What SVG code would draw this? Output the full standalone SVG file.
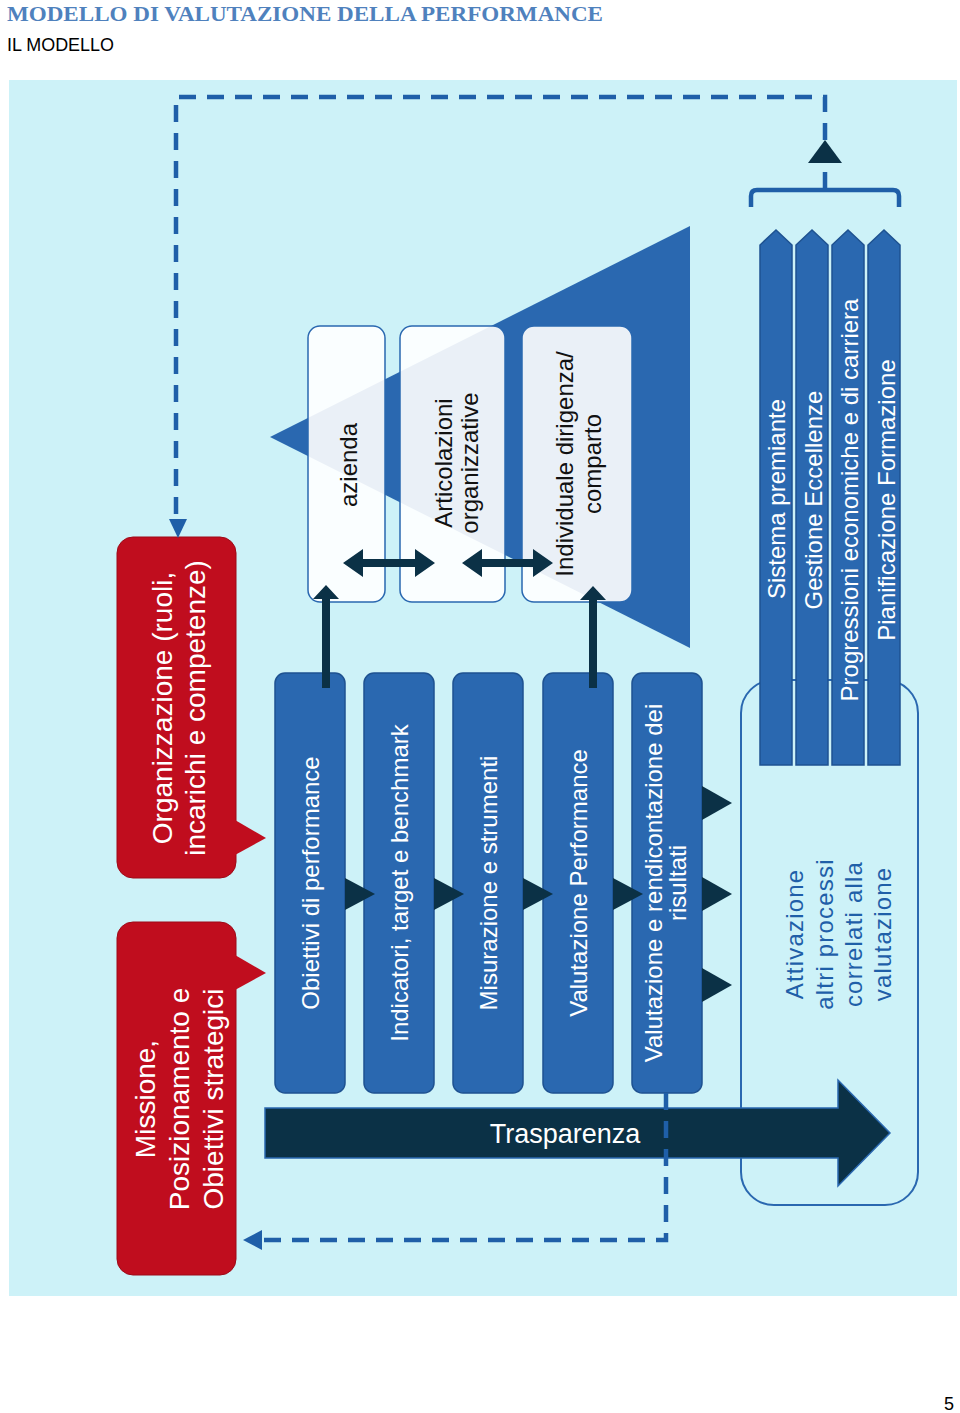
<svg xmlns="http://www.w3.org/2000/svg" width="960" height="1413" viewBox="0 0 960 1413">
<defs>
<style>
.t{font-family:"Liberation Sans",Arial,sans-serif;}
.wt{fill:#ffffff;font-size:24px;}
.rt{fill:#ffffff;font-size:28px;}
.dk{fill:#111111;font-size:24px;}
.bx{fill:#2A68B0;stroke:#1E5291;stroke-width:1.5;}
.red{fill:#C00D1E;stroke:#9E0A18;stroke-width:1;}
.wb{fill:#ffffff;fill-opacity:0.9;stroke:#2A68B0;stroke-width:1.5;}
.nav{fill:#0B3146;}
.dash{fill:none;stroke:#1F5FA8;stroke-width:4.5;stroke-dasharray:17 11;}
.bl{fill:#1F5FA8;}
</style>
</defs>
<rect width="960" height="1413" fill="#ffffff"/>
<g id="header">
<text x="7" y="21" font-family="'Liberation Serif',Cambria,serif" font-weight="bold" font-size="22" fill="#4F81BD" textLength="596" lengthAdjust="spacingAndGlyphs">MODELLO DI VALUTAZIONE DELLA PERFORMANCE</text>
<text x="7" y="51" class="t" font-size="18.5" fill="#000000" textLength="107" lengthAdjust="spacingAndGlyphs">IL MODELLO</text>
<text x="944" y="1410" class="t" font-size="18" fill="#000000">5</text>
</g>
<rect id="panel" x="9" y="80" width="948" height="1216" fill="#CDF2F8"/>
<g id="pyramid">
<polygon points="270,437 690,226 690,648" fill="#2A68B0"/>
</g>
<g id="node-azienda">
<rect class="wb" x="308" y="326" width="77" height="276" rx="12"/>
<text class="t dk" text-anchor="middle" transform="translate(357,465) rotate(-90)">azienda</text>
</g>
<g id="node-articolazioni">
<rect class="wb" x="400" y="326" width="105" height="276" rx="12"/>
<text class="t dk" text-anchor="middle" transform="translate(0,463) rotate(-90)"><tspan x="0" y="452">Articolazioni</tspan><tspan x="0" y="478">organizzative</tspan></text>
</g>
<g id="node-individuale">
<rect class="wb" x="522" y="326" width="110" height="276" rx="12"/>
<text class="t dk" text-anchor="middle" transform="translate(0,464) rotate(-90)"><tspan x="0" y="573">Individuale dirigenza/</tspan><tspan x="0" y="601">comparto</tspan></text>
</g>
<g id="node-attivazione">
<rect x="741" y="680" width="177" height="525" rx="33" fill="none" stroke="#2A68B0" stroke-width="2"/>
<text class="t" font-size="24" fill="#1F5FA8" letter-spacing="1.2" text-anchor="middle" transform="translate(0,934) rotate(-90)"><tspan x="0" y="803">Attivazione</tspan><tspan x="0" y="833">altri processi</tspan><tspan x="0" y="862">correlati alla</tspan><tspan x="0" y="891">valutazione</tspan></text>
</g>
<g id="node-sistema-premiante">
<path class="bx" d="M760,765 V245 L776,230 L792,245 V765 Z"/>
<text class="t wt" text-anchor="middle" transform="translate(785,499) rotate(-90)">Sistema premiante</text>
</g>
<g id="node-gestione-eccellenze">
<path class="bx" d="M796,765 V245 L812,230 L828,245 V765 Z"/>
<text class="t wt" text-anchor="middle" transform="translate(822,500) rotate(-90)">Gestione Eccellenze</text>
</g>
<g id="node-progressioni">
<path class="bx" d="M832,765 V245 L848,230 L864,245 V765 Z"/>
<text class="t wt" text-anchor="middle" transform="translate(858,500) rotate(-90)">Progressioni economiche e di carriera</text>
</g>
<g id="node-pianificazione">
<path class="bx" d="M868,765 V245 L884,230 L900,245 V765 Z"/>
<text class="t wt" text-anchor="middle" transform="translate(895,500) rotate(-90)">Pianificazione Formazione</text>
</g>
<g id="node-obiettivi">
<rect class="bx" x="275" y="673" width="70" height="420" rx="10"/>
<text class="t wt" text-anchor="middle" transform="translate(319,883) rotate(-90)">Obiettivi di performance</text>
</g>
<g id="node-indicatori">
<rect class="bx" x="364" y="673" width="70" height="420" rx="10"/>
<text class="t wt" text-anchor="middle" transform="translate(408,883) rotate(-90)">Indicatori, target e benchmark</text>
</g>
<g id="node-misurazione">
<rect class="bx" x="453" y="673" width="70" height="420" rx="10"/>
<text class="t wt" text-anchor="middle" transform="translate(497,883) rotate(-90)">Misurazione e strumenti</text>
</g>
<g id="node-valutazione-performance">
<rect class="bx" x="543" y="673" width="70" height="420" rx="10"/>
<text class="t wt" text-anchor="middle" transform="translate(587,883) rotate(-90)">Valutazione Performance</text>
</g>
<g id="node-rendicontazione">
<rect class="bx" x="632" y="673" width="70" height="420" rx="10"/>
<text class="t wt" text-anchor="middle" transform="translate(0,883) rotate(-90)"><tspan x="0" y="662">Valutazione e rendicontazione dei</tspan><tspan x="0" y="686">risultati</tspan></text>
</g>
<g id="node-organizzazione">
<rect class="red" x="117" y="537" width="119" height="341" rx="16"/>
<polygon points="235,820 266,838 235,855" fill="#C00D1E"/>
<text class="t rt" text-anchor="middle" transform="translate(0,708) rotate(-90)"><tspan x="0" y="172">Organizzazione (ruoli,</tspan><tspan x="0" y="205">incarichi e competenze)</tspan></text>
</g>
<g id="node-missione">
<rect class="red" x="117" y="922" width="119" height="353" rx="16"/>
<polygon points="235,955 266,973 235,990" fill="#C00D1E"/>
<text class="t rt" text-anchor="middle" transform="translate(0,1099) rotate(-90)"><tspan x="0" y="155">Missione,</tspan><tspan x="0" y="189">Posizionamento e</tspan><tspan x="0" y="223">Obiettivi  strategici</tspan></text>
</g>
<g id="node-trasparenza">
<polygon points="265,1108 838,1108 838,1080 890,1133 838,1186 838,1158 265,1158" fill="#0B3146" stroke="#2A68B0" stroke-width="1.5"/>
<text class="t" x="565" y="1143" font-size="27" fill="#ffffff" text-anchor="middle">Trasparenza</text>
</g>
<g id="connectors">
<path class="dash" d="M825,140 V97 H176 V520"/>
<polygon class="bl" points="169,519 187,519 178,538"/>
<path class="dash" d="M666,1093 V1240 H262"/>
<polygon class="bl" points="243,1240 262,1230 262,1250"/>
<line x1="825" y1="172" x2="825" y2="190" stroke="#1F5FA8" stroke-width="4.5"/>
<path d="M751,207 V196 Q751,190 757,190 H893 Q899,190 899,196 V207" fill="none" stroke="#1F5FA8" stroke-width="4.5"/>
<polygon class="nav" points="825,140 842,163 808,163"/>
<polygon class="nav" points="343,563 363,549 363,559 415,559 415,549 435,563 415,577 415,567 363,567 363,577"/>
<polygon class="nav" points="462,563 482,549 482,559 533,559 533,549 553,563 533,577 533,567 482,567 482,577"/>
<polygon class="nav" points="326,585 339,599 330,599 330,688 322,688 322,599 313,599"/>
<polygon class="nav" points="593,586 606,600 597,600 597,688 589,688 589,600 580,600"/>
<polygon class="nav" points="345,878 375,894 345,910"/>
<polygon class="nav" points="434,878 464,894 434,910"/>
<polygon class="nav" points="523,878 553,894 523,910"/>
<polygon class="nav" points="613,878 643,894 613,910"/>
<polygon class="nav" points="702,786 732,803 702,820"/>
<polygon class="nav" points="702,877 732,894 702,911"/>
<polygon class="nav" points="702,968 732,985 702,1002"/>
</g>
</svg>
